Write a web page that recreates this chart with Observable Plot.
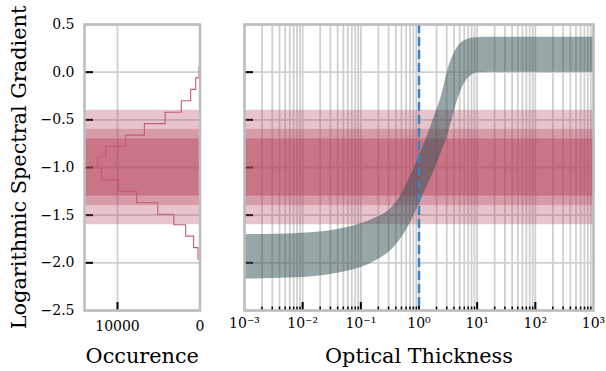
<!DOCTYPE html>
<html><head><meta charset="utf-8">
<script src="https://cdn.jsdelivr.net/npm/d3@7"></script>
<script src="https://cdn.jsdelivr.net/npm/@observablehq/plot@0.6"></script>
<style>
body{margin:0;background:#fff;}
#chart{position:relative;width:606px;height:371px;overflow:hidden;}
#chart svg{position:absolute;top:0;}
#chart [aria-label="x-axis label"], #chart [aria-label="y-axis label"] {font-size:20.8px;}
</style></head><body><div id="chart"></div>
<script>
// ---- data ----
const yTicks = [0.5, 0.0, -0.5, -1.0, -1.5, -2.0, -2.5];
const yTickLabels = ["0.5", "0.0", "\u22120.5", "\u22121.0", "\u22121.5", "\u22122.0", "\u22122.5"];

const histEdges = [0.06, -0.06, -0.18, -0.30, -0.42, -0.54, -0.66, -0.78, -0.89, -1.01, -1.13, -1.25, -1.37, -1.49, -1.60, -1.72, -1.84, -1.96, -2.08];
const histCounts = [120, 520, 1130, 2270, 4220, 6740, 9020, 11440, 12440, 11950, 9880, 7680, 5120, 3170, 1740, 770, 240, 50];
const countTicks = [10000, 0];
const countTickLabels = ["10000", "0"];

const bandLow = [-1.6, -1.4, -1.3];
const bandHigh = [-0.4, -0.6, -0.7];

const tau = [0.001, 0.00316, 0.01, 0.0316, 0.1, 0.178, 0.316, 0.447, 0.631, 0.891, 1.259, 1.778, 2.512, 3.162, 3.981, 5.012, 6.310, 7.943, 10, 15.85, 100, 1000];
const gradLower = [-2.17, -2.165, -2.155, -2.12, -2.05, -1.98, -1.88, -1.78, -1.64, -1.46, -1.25, -1.05, -0.82, -0.65, -0.43, -0.23, -0.10, -0.035, -0.01, 0.0, 0.0, 0.0];
const gradUpper = [-1.705, -1.70, -1.69, -1.66, -1.59, -1.53, -1.44, -1.33, -1.16, -0.96, -0.74, -0.49, -0.22, 0.03, 0.19, 0.29, 0.335, 0.355, 0.362, 0.365, 0.365, 0.365];

const tauTicks = [1e-3, 1e-2, 1e-1, 1e0, 1e1, 1e2, 1e3];
const tauTickLabels = ["10\u207B\u00B3", "10\u207B\u00B2", "10\u207B\u00B9", "10\u2070", "10\u00B9", "10\u00B2", "10\u00B3"];
const tauMarker = [1];

// ---- styling ----
const gridColor = "#d0d0d0";
const frameColor = "#bdbdbd";
const bandColor = "#b43c55";
const bandOpacity = [0.3, 0.3, 0.4];
const histColor = "#c45a76";
const areaColor = "#2f4f4f";
const markerColor = "#3a84c6";

const H = 371, MT = 24, MB = 61;
const innerH = H - MT - MB;

const common = {
  height: H, marginTop: MT, marginBottom: MB,
  style: {fontFamily: "DejaVu Serif", fontSize: "14px", color: "#000", background: "transparent", overflow: "visible"}
};

const bandRows = bandLow.map((lo, i) => ({lo, hi: bandHigh[i], i}));
const bandMarks = () => bandRows.map(b => Plot.rect([b], {y1: "lo", y2: "hi", fill: bandColor, fillOpacity: bandOpacity[b.i]}));

const histPath = [{c: 0, y: histEdges[0]}];
histCounts.forEach((c, i) => { histPath.push({c, y: histEdges[i]}, {c, y: histEdges[i + 1]}); });
histPath.push({c: 0, y: histEdges[histEdges.length - 1]});

const curveData = tau.map((t, i) => ({tau: t, lo: gradLower[i], hi: gradUpper[i]}));

const yFmt = d => yTickLabels[yTicks.indexOf(d)] ?? "";
const cFmt = d => countTickLabels[countTicks.indexOf(d)] ?? "";
const tFmt = d => tauTickLabels[tauTicks.findIndex(t => Math.abs(t - d) / t < 1e-6)] ?? "";

const minorTau = [];
for (let k = -3; k <= 2; k++) for (let m = 2; m <= 9; m++) minorTau.push(m * Math.pow(10, k));
const gridTau = minorTau.concat(tauTicks);

// ---- left panel ----
const LW = 210, LML = 84, LMR = 10.5;
const left = Plot.plot({
  ...common, width: LW, marginLeft: LML, marginRight: LMR,
  x: {domain: [14000, 0]},
  y: {domain: [-2.5, 0.5]},
  marks: [
    Plot.gridY(yTicks, {stroke: gridColor, strokeOpacity: 1, strokeWidth: 1.8}),
    Plot.gridX([10000], {stroke: gridColor, strokeOpacity: 1, strokeWidth: 1.8}),
    Plot.tickY(yTicks.slice(1, -1), {y: d => d, insetLeft: 1, insetRight: (LW - LML - LMR) - 9, stroke: "#000", strokeWidth: 2}),
    Plot.tickX([10000], {x: d => d, insetTop: innerH - 8, stroke: "#000", strokeWidth: 2}),
    ...bandMarks(),
    Plot.line(histPath, {x: "c", y: "y", stroke: histColor, strokeWidth: 1.1}),
    Plot.frame({stroke: frameColor, strokeWidth: 2.5}),
    Plot.axisY(yTicks, {tickSize: 0, tickPadding: 10, tickFormat: yFmt, label: "Logarithmic Spectral Gradient", labelAnchor: "center", labelOffset: 73, labelArrow: "none"}),
    Plot.axisX(countTicks, {tickSize: 0, tickPadding: 11, tickFormat: cFmt, label: "Occurence", labelAnchor: "center", labelOffset: 52, labelArrow: "none"})
  ]
});
left.style.left = "0px";

// ---- right panel ----
const RW = 406, RML = 44, RMR = 13;
const right = Plot.plot({
  ...common, width: RW, marginLeft: RML, marginRight: RMR,
  x: {type: "log", domain: [1e-3, 1e3]},
  y: {domain: [-2.5, 0.5], axis: null},
  marks: [
    Plot.gridY(yTicks, {stroke: gridColor, strokeOpacity: 1, strokeWidth: 1.8}),
    Plot.gridX(gridTau, {stroke: gridColor, strokeOpacity: 1, strokeWidth: 1.8}),
    Plot.tickY(yTicks.slice(1, -1), {y: d => d, insetLeft: 1, insetRight: (RW - RML - RMR) - 9, stroke: "#000", strokeWidth: 2}),
    Plot.tickX(minorTau, {x: d => d, insetTop: innerH - 3.5, stroke: "#000", strokeWidth: 1.5}),
    Plot.tickX(tauTicks.slice(1, -1), {x: d => d, insetTop: innerH - 8, stroke: "#000", strokeWidth: 2}),
    ...bandMarks(),
    Plot.areaY(curveData, {x: "tau", y1: "lo", y2: "hi", fill: areaColor, fillOpacity: 0.5, curve: "monotone-x"}),
    Plot.ruleX(tauMarker, {stroke: markerColor, strokeWidth: 2.5, strokeDasharray: "9,4"}),
    Plot.frame({stroke: frameColor, strokeWidth: 2.5}),
    Plot.axisX(tauTicks, {tickSize: 0, tickPadding: 8, tickFormat: tFmt, label: "Optical Thickness", labelAnchor: "center", labelOffset: 52, labelArrow: "none"})
  ]
});
right.style.left = "200px";

const chart = document.getElementById("chart");
chart.append(left, right);
</script>
</body></html>
